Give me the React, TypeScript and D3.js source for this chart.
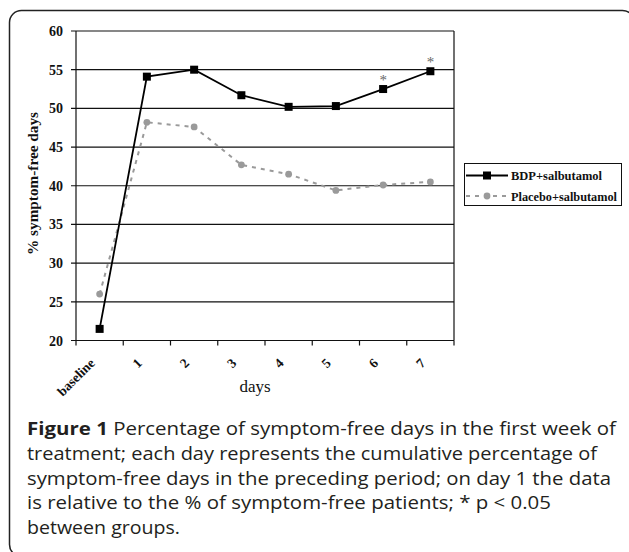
import React from "react";
import * as d3 from "d3";

const categories = ["baseline", "1", "2", "3", "4", "5", "6", "7"];
const bdpValues = [21.5, 54.1, 55.0, 51.7, 50.2, 50.3, 52.5, 54.8];
const placeboValues = [26.0, 48.2, 47.6, 42.7, 41.5, 39.4, 40.1, 40.5];
const significantDays = ["6", "7"];
const yTicks = [20, 25, 30, 35, 40, 45, 50, 55, 60];
const seriesNames = ["BDP+salbutamol", "Placebo+salbutamol"];
const captionLines = [
  "Percentage of symptom-free days in the first week of",
  "treatment; each day represents the cumulative percentage of",
  "symptom-free days in the preceding period; on day 1 the data",
  "is relative to the % of symptom-free patients; * p < 0.05",
  "between groups.",
];

const W = 629;
const H = 552;
const plotL = 76;
const plotR = 454;
const plotT = 31;
const plotB = 340.5;

export default function App() {
  const x = d3.scaleBand<string>().domain(categories).range([plotL, plotR]);
  const y = d3.scaleLinear().domain([20, 60]).range([plotB, plotT]);
  const cx = (c: string) => (x(c) as number) + x.bandwidth() / 2;

  const line = d3
    .line<number>()
    .x((_, i) => cx(categories[i]))
    .y((d) => y(d));

  const serif = "'Liberation Serif', 'Times New Roman', serif";
  const grey = "#9a9a9a";
  const bounds = [...categories.map((c) => x(c) as number), plotR];
  const captionWidths = [589, 570, 584, 524, 153];

  return (
    <svg
      width={W}
      height={H}
      style={{ position: "absolute", left: 0, top: 0, background: "#fff" }}
    >
      <rect
        x={9.5}
        y={10.5}
        width={625}
        height={546}
        rx={12}
        fill="#fff"
        stroke="#222"
        strokeWidth={1.5}
      />
      {yTicks.map((t) => (
        <line
          key={"g" + t}
          x1={plotL - 5}
          x2={plotR}
          y1={y(t)}
          y2={y(t)}
          stroke="#111"
          strokeWidth={1.2}
        />
      ))}
      <line x1={plotL} x2={plotL} y1={plotT} y2={plotB} stroke="#111" strokeWidth={1.2} />
      <line x1={plotR} x2={plotR} y1={plotT} y2={plotB} stroke="#111" strokeWidth={1.2} />
      {bounds.map((b, i) => (
        <line key={"xt" + i} x1={b} x2={b} y1={plotB} y2={plotB + 5} stroke="#111" strokeWidth={1.2} />
      ))}
      {yTicks.map((t) => (
        <text
          key={"yl" + t}
          x={63}
          y={y(t) + 5}
          textAnchor="end"
          fontFamily={serif}
          fontWeight="bold"
          fontSize={14}
          fill="#111"
        >
          {t}
        </text>
      ))}
      {categories.map((c) => (
        <text
          key={"xl" + c}
          transform={`translate(${cx(c) - 4},${364}) rotate(-45)`}
          textAnchor="end"
          fontFamily={serif}
          fontWeight="bold"
          fontSize={13.5}
          fill="#111"
        >
          {c}
        </text>
      ))}
      <text x={255} y={391.5} textAnchor="middle" fontFamily={serif} fontSize={17} fill="#111">
        days
      </text>
      <text
        transform={`translate(${37.5},${183.5}) rotate(-90)`}
        textAnchor="middle"
        fontFamily={serif}
        fontWeight="bold"
        fontSize={15}
        fill="#111"
        textLength={143}
        lengthAdjust="spacingAndGlyphs"
      >
        % symptom-free days
      </text>
      <path
        d={line(placeboValues) || ""}
        fill="none"
        stroke={grey}
        strokeWidth={2}
        strokeDasharray="4,5"
      />
      {placeboValues.map((v, i) => (
        <circle key={"pc" + i} cx={cx(categories[i])} cy={y(v)} r={3.4} fill={grey} />
      ))}
      <path d={line(bdpValues) || ""} fill="none" stroke="#000" strokeWidth={1.8} />
      {bdpValues.map((v, i) => (
        <rect
          key={"bm" + i}
          x={cx(categories[i]) - 4}
          y={y(v) - 4}
          width={8}
          height={8}
          fill="#000"
        />
      ))}
      {significantDays.map((d) => {
        const i = categories.indexOf(d);
        return (
          <text
            key={"s" + d}
            x={cx(d)}
            y={y(bdpValues[i]) - 4}
            textAnchor="middle"
            fontFamily={serif}
            fontSize={15}
            fill="#666"
          >
            *
          </text>
        );
      })}
      <rect x={464.5} y={163.5} width={157} height={42} fill="#fff" stroke="#111" strokeWidth={1} />
      <line x1={466} x2={508} y1={175.5} y2={175.5} stroke="#000" strokeWidth={1.8} />
      <rect x={483} y={171.5} width={8} height={8} fill="#000" />
      <text
        x={511}
        y={180}
        fontFamily={serif}
        fontWeight="bold"
        fontSize={13}
        fill="#111"
        textLength={91}
        lengthAdjust="spacingAndGlyphs"
      >
        {seriesNames[0]}
      </text>
      <line
        x1={466}
        x2={508}
        y1={196}
        y2={196}
        stroke={grey}
        strokeWidth={2}
        strokeDasharray="4,5"
      />
      <circle cx={487} cy={196} r={3.4} fill={grey} />
      <text
        x={511}
        y={200.5}
        fontFamily={serif}
        fontWeight="bold"
        fontSize={13}
        fill="#111"
        textLength={106}
        lengthAdjust="spacingAndGlyphs"
      >
        {seriesNames[1]}
      </text>
      {captionLines.map((ln, i) => (
        <text
          key={"cap" + i}
          x={27}
          y={435 + i * 24.8}
          fontFamily="'Open Sans', 'Noto Sans', sans-serif"
          fontSize={18}
          fontWeight={500}
          fill="#231f20"
          textLength={captionWidths[i]}
          lengthAdjust="spacingAndGlyphs"
        >
          {i === 0 ? (
            <>
              <tspan fontWeight="bold">Figure 1</tspan> {ln}
            </>
          ) : (
            ln
          )}
        </text>
      ))}
    </svg>
  );
}
